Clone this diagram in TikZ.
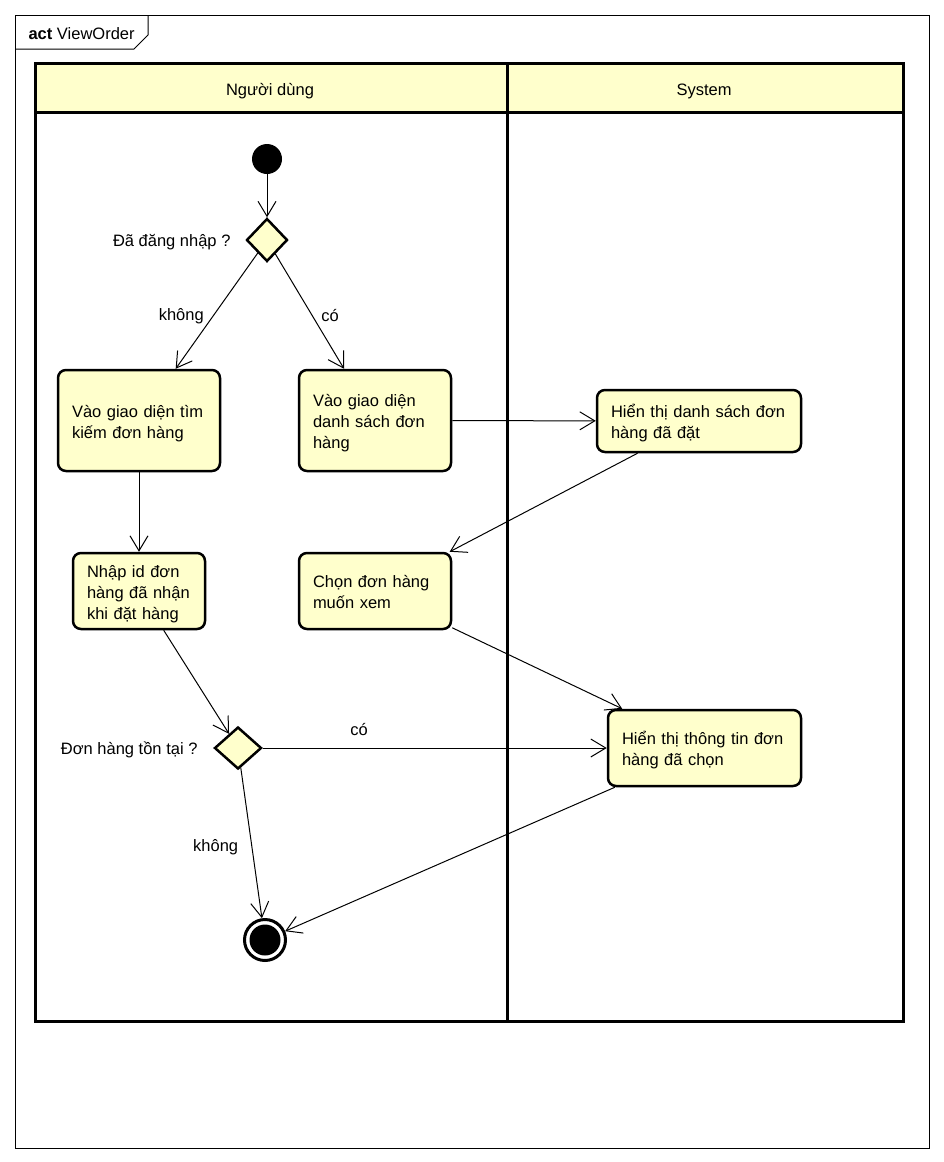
\documentclass[tikz,border=0pt]{standalone}
\usepackage{fontspec}
\setmainfont{Liberation Sans}
\usetikzlibrary{positioning,shapes.geometric,arrows.meta}
\definecolor{umlfill}{RGB}{255,255,204}

\begin{document}
\begin{tikzpicture}[x=1pt,y=-1pt,font=\fontsize{16.5}{21}\selectfont,
act/.style={draw,rectangle,rounded corners=8pt,line width=2.5pt,fill=umlfill,
inner xsep=14pt,inner ysep=2pt,align=left,text height=18pt},
dec/.style={draw,diamond,line width=2.5pt,fill=umlfill,inner sep=0pt},
ini/.style={circle,fill=black,minimum size=30pt,inner sep=0pt},
fin/.style={draw,circle,line width=3pt,minimum size=41pt,inner sep=0pt,
path picture={\fill[black] (path picture bounding box.center) circle (15.5pt);}},
lbl/.style={yshift=-2pt},
flow/.style={->,line width=1pt},
>={Straight Barb[length=15pt,width=18pt]}]
\useasboundingbox (0,0) rectangle (943,1162);
\draw[line width=1pt] (15,15) rectangle (929,1148);
\draw[line width=1pt] (15,49) -- (134,49) -- (148,35) -- (148,15);
\node[anchor=west] (title) at (25,34) {\textbf{act} ViewOrder};

\fill[umlfill] (35,63) rectangle (903,112);
\draw[line width=3pt] (35,63) rectangle (903,1021);
\draw[line width=3pt] (35,112) -- (903,112);
\draw[line width=3pt] (507,63) -- (507,1021);
\node[lbl] (user) at (270,89) {Người dùng};
\node[lbl] (sys) at (704,89) {System};

\node[ini] (start) at (267,159) {};
\node[dec,minimum width=41pt,minimum height=43pt] (login) at (267,240) {};
\node[lbl,anchor=east] (loginq) at (234,240) {Đã đăng nhập ?};
\node[act,text width=134pt,minimum height=101pt] (search) at (139,420.5)
  {Vào giao diện tìm\\kiếm đơn hàng};
\node[act,text width=124pt,minimum height=101pt] (list) at (375,420.5)
  {Vào giao diện\\danh sách đơn\\hàng};
\node[act,text width=176pt,minimum height=62pt] (showlist) at (699,421)
  {Hiển thị danh sách đơn\\hàng đã đặt};
\node[act,text width=104pt,minimum height=76pt] (enterid) at (139,591)
  {Nhập id đơn\\hàng đã nhận\\khi đặt hàng};
\node[act,text width=124pt,minimum height=76pt,text height=15pt] (pick) at (375,591)
  {Chọn đơn hàng\\muốn xem};
\node[dec,minimum width=47pt,minimum height=42pt] (exists) at (238,748) {};
\node[lbl,anchor=east] (existsq) at (201,748) {Đơn hàng tồn tại ?};
\node[act,text width=165pt,minimum height=76pt] (showinfo) at (704.5,748)
  {Hiển thị thông tin đơn\\hàng đã chọn};
\node[fin] (stop) at (265,940) {};

\draw[flow] (start) -- (login);
\draw[flow] (login) -- node[pos=0.55,left=5pt] {không} (search);
\draw[flow] (login) -- node[pos=0.54,right=5pt] {có} (list);
\draw[flow] (list) -- (showlist);
\draw[flow] (showlist) -- (pick);
\draw[flow] (search) -- (enterid);
\draw[flow] (enterid) -- (exists);
\draw[flow] (exists) -- node[pos=0.28,above=9pt] {có} (showinfo);
\draw[flow] (pick) -- (showinfo);
\draw[flow] (exists) -- node[pos=0.53,left=10pt] {không} (stop);
\draw[flow] (showinfo) -- (stop);
\end{tikzpicture}
\end{document}
